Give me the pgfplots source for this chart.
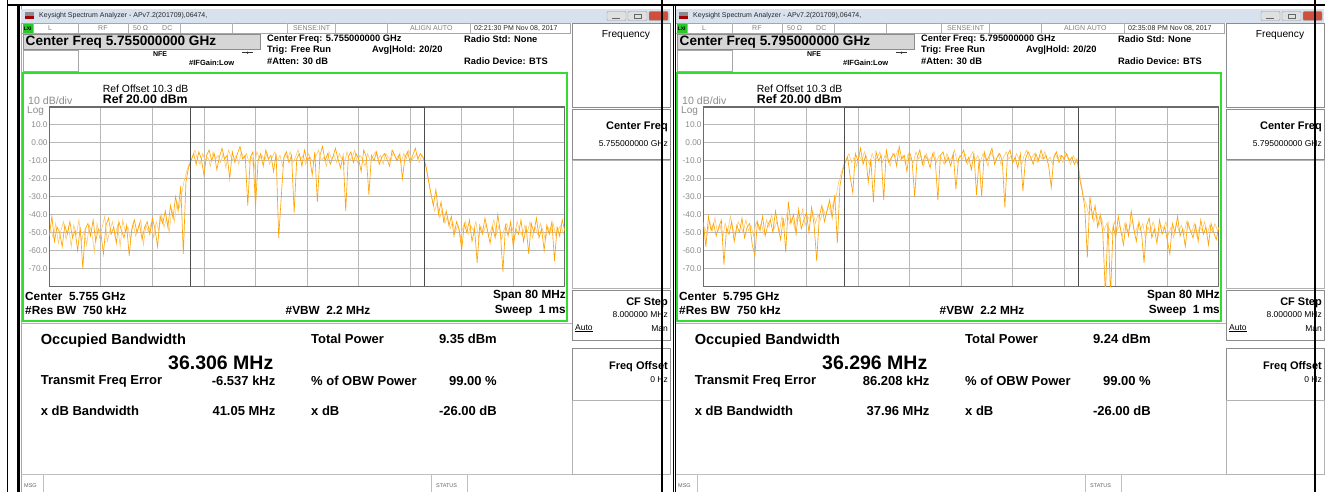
\documentclass[border=0pt]{standalone}
\usepackage{pgfplots}
\pgfplotsset{compat=1.18}
\usepackage{fontspec}
\setmainfont{Liberation Sans}

\definecolor{trace}{RGB}{255,163,0}
\definecolor{tracelight}{RGB}{255,200,110}
\definecolor{lxi}{RGB}{40,200,40}
\definecolor{boxgreen}{RGB}{50,220,50}
\definecolor{titlebar}{RGB}{216,226,238}
\definecolor{keygray}{RGB}{214,214,214}
\newcommand{\fs}[1]{\fontsize{#1}{#1}\selectfont}

\pgfplotsset{sa/.style={
    anchor=south west, width=515.5pt, height=179.2pt, scale only axis,
    xmin=-40, xmax=40, ymin=-80, ymax=20,
    xtick={-32,-24,...,32}, xticklabels={},
    ytick={-70,-60,...,10},
    yticklabels={-70.0,-60.0,-50.0,-40.0,-30.0,-20.0,-10.0,0.00,10.0},
    yticklabel style={font=\fs{8.3}, text=black!45, inner sep=1.5pt},
    tick style={draw=none}, major tick length=0pt,
    grid=major, major grid style={draw=black!28, line width=0.9pt},
    axis line style={draw=black!58, line width=1.3pt},
}}

% one analyzer window: offset, CF, short CF, time, OBW, power, freq err, xdB BW
\newcommand{\panel}[8]{%
\begin{scope}[xshift=#1pt]
\fill[white] (21,6) rectangle (670,492);
\draw[black!35, line width=1pt] (21.5,6) -- (21.5,492);
% title bar
\fill[titlebar] (21,9) rectangle (670,23);
\fill[black!45] (25,12.5) rectangle (34,16);
\fill[red!65!black] (25,16) rectangle (34,19.5);
\node[anchor=west, font=\fs{7}, text=black!85, inner sep=0] at (39,16) {Keysight Spectrum Analyzer - APv7.2(201709),06474,};
\filldraw[fill=black!12, draw=black!40, rounded corners=1pt] (607,11.5) rectangle (626,20.5);
\filldraw[fill=black!12, draw=black!40, rounded corners=1pt] (628,11.5) rectangle (647,20.5);
\filldraw[fill={rgb,255:red,205;green,80;blue,60}, draw=black!40, rounded corners=1pt] (649,11.5) rectangle (668,20.5);
\draw[black!60] (612,18) -- (620,18);
\draw[black!60] (634,14) rectangle (641,18.5);
% status row
\draw[black!35] (21,23.5) rectangle (570,33.5);
\fill[lxi] (22.5,24) rectangle (33,33);
\node[font=\fs{5}\bfseries, inner sep=0] at (27.7,28.5) {LXI};
\foreach \sx in {33,78,128,180,232,287,335,387,470}{\draw[black!30] (\sx,23.5) -- (\sx,33.5);}
\begin{scope}[every node/.style={font=\fs{7}, text=black!50, inner sep=0, anchor=west}]
\node at (48,28.5) {L};
\node at (98,28.5) {RF};
\node at (133,28.5) {50 Ω};
\node at (162,28.5) {DC};
\node at (293,28.5) {SENSE:INT};
\node at (410,28.5) {ALIGN AUTO};
\node[text=black!85] at (474,28.5) {#4};
\end{scope}
% active function
\filldraw[fill=keygray, draw=black!45] (23.3,34.3) rectangle (260,49.3);
\node[anchor=west, font=\fs{13.6}\bfseries, inner sep=0] at (25.5,42.3) {Center Freq #2 GHz};
\draw[black!35] (23.3,50) rectangle (78.3,71.7);
\node[font=\fs{7}\bfseries, inner sep=0] at (160,54.3) {NFE};
\draw[black!80, line width=0.6pt] (242,52.7) -- (253,52.7);
\fill[black!80] (247.5,52.7) circle (1.2);
\node[anchor=west, font=\fs{7.5}\bfseries, inner sep=0] at (189,63.3) {\#IFGain:Low};
\begin{scope}[every node/.style={font=\fs{9.3}\bfseries, inner sep=0, anchor=west}]
\node at (267,39.3) {Center Freq: #2 GHz};
\node at (267,50) {Trig: Free Run};
\node at (267,61) {\#Atten: 30 dB};
\node at (372,50) {Avg|Hold: 20/20};
\node at (464,39.3) {Radio Std: None};
\node at (464,61.5) {Radio Device: BTS};
\end{scope}
% trace window
\draw[boxgreen, line width=2pt] (23.3,72.7) rectangle (566.5,320.5);
\node[anchor=west, font=\fs{10.4}, inner sep=0] at (102.7,88.3) {Ref Offset 10.3 dB};
\node[anchor=west, font=\fs{12.3}\bfseries, inner sep=0] at (102.7,99.5) {Ref 20.00 dBm};
\node[anchor=west, font=\fs{10.6}, text=black!45, inner sep=0] at (28,100.5) {10 dB/div};
\node[anchor=west, font=\fs{10}, text=black!45, inner sep=0] at (27,111) {Log};
\begin{scope}[every node/.style={font=\fs{11.8}\bfseries, inner sep=0}]
\node[anchor=west] at (25,296) {Center\ \ #3 GHz};
\node[anchor=west] at (25,310.5) {\#Res BW\ \ 750 kHz};
\node[anchor=west] at (285.5,310.5) {\#VBW\ \ 2.2 MHz};
\node[anchor=east] at (566,296) {Span 80 MHz};
\node[anchor=east] at (566,310.5) {Sweep\ \ 1 ms};
\end{scope}
% results
\draw[black!30] (21,323) -- (572,323);
\node[anchor=west, font=\fs{14.6}\bfseries, inner sep=0] at (40.6,341) {Occupied Bandwidth};
\node[anchor=east, font=\fs{19.5}\bfseries, inner sep=0] at (273.5,362.7) {#5 MHz};
\begin{scope}[every node/.style={font=\fs{13}\bfseries, inner sep=0}]
\node[anchor=west] at (311,339) {Total Power};
\node[anchor=east] at (497,339) {#6 dBm};
\node[anchor=west] at (40.6,381) {Transmit Freq Error};
\node[anchor=east] at (275.6,381) {#7 kHz};
\node[anchor=west] at (311,381) {\% of OBW Power};
\node[anchor=east] at (497,381) {99.00 \%};
\node[anchor=west] at (40.6,411) {x dB Bandwidth};
\node[anchor=east] at (275.6,411) {#8 MHz};
\node[anchor=west] at (311,411) {x dB};
\node[anchor=east] at (497,411) {-26.00 dB};
\end{scope}
% message bar
\draw[black!25, line width=1.2pt] (21,474.5) -- (670,474.5);
\foreach \sx in {42.7,431.6,466.7}{\draw[black!25] (\sx,475) -- (\sx,492);}
\node[anchor=west, font=\fs{5.5}, text=black!60, inner sep=0] at (24,486) {MSG};
\node[anchor=west, font=\fs{5.5}, text=black!60, inner sep=0] at (436,486) {STATUS};
% softkeys
\draw[black!45, line width=1pt] (572.6,24) rectangle (670,108);
\node[font=\fs{10.2}, inner sep=0] at (626,35.5) {Frequency};
\draw[black!45, line width=1pt] (572.6,109.3) rectangle (670,159.3);
\node[anchor=east, font=\fs{11}\bfseries, inner sep=0] at (668,126.7) {Center Freq};
\node[anchor=east, font=\fs{8.5}, inner sep=0] at (668,143.3) {#2 GHz};
\draw[black!30, line width=1pt] (572.6,160) rectangle (670,288);
\draw[black!45, line width=1pt] (572.6,290) rectangle (670,340);
\node[anchor=east, font=\fs{11}\bfseries, inner sep=0] at (668,302.7) {CF Step};
\node[anchor=east, font=\fs{8.5}, inner sep=0] at (668,315) {8.000000 MHz};
\node[anchor=west, font=\fs{8.5}, inner sep=0] at (575,328.3) {\underline{Auto}};
\node[anchor=east, font=\fs{8.5}, inner sep=0] at (668,328.3) {Man};
\draw[black!45, line width=1pt] (572.6,348) rectangle (670,400);
\node[anchor=east, font=\fs{11}\bfseries, inner sep=0] at (668,367) {Freq Offset};
\node[anchor=east, font=\fs{8.5}, inner sep=0] at (668,380) {0 Hz};
\draw[black!30, line width=1pt] (572.6,400) rectangle (670,474);
\end{scope}}

\begin{document}
\begin{tikzpicture}[x=1pt, y=-1pt]
\path[use as bounding box] (0,0) rectangle (1325,492);
\fill[white] (0,0) rectangle (1325,492);

\panel{0}{5.755000000}{5.755}{02:21:30 PM Nov 08, 2017}{36.306}{9.35}{-6.537}{41.05}
\panel{654}{5.795000000}{5.795}{02:35:08 PM Nov 08, 2017}{36.296}{9.24}{86.208}{37.96}

\begin{scope}[x=1cm, y=1cm]
\begin{axis}[sa, at={(49.3pt,-286.2pt)}]
% in-between sweep points (lighter)
\addplot[tracelight, line width=0.6pt] coordinates {
(-39.8,-48) (-39.4,-53) (-39.0,-45) (-38.6,-56) (-38.2,-49) (-37.8,-44) (-37.4,-54) (-37.0,-47)
(-36.6,-58) (-36.2,-46) (-35.8,-51) (-35.4,-43) (-35.0,-55) (-34.6,-49) (-34.2,-57) (-33.8,-46)
(-33.4,-50) (-33.0,-61) (-32.6,-45) (-32.2,-53) (-31.8,-47) (-31.4,-41) (-31.0,-55) (-30.6,-49)
(-30.2,-44) (-29.8,-52) (-29.4,-46) (-29.0,-58) (-28.6,-43) (-28.2,-50) (-27.8,-47) (-27.4,-54)
(-27.0,-45) (-26.6,-52) (-26.2,-48) (-25.8,-43) (-25.4,-57) (-25.0,-46) (-24.6,-50) (-24.2,-45)
(-23.8,-53) (-23.4,-44) (-23.0,-49) (-22.6,-40) (-22.2,-47) (-21.8,-42) (-21.4,-50) (-21.0,-37)
(-20.6,-44) (-20.2,-33) (-19.8,-36) (-19.4,-27) (-19.0,-20) (-18.6,-15) (-18.2,-11) (-17.8,-8)
(-17.4,-4) (-17.0,-9) (-16.6,-12) (-16.2,-6) (-15.8,-10) (-15.4,-8) (-15.0,-13) (-14.6,-5)
(-14.2,-9) (-13.8,-7) (-13.4,-11) (-13.0,-6) (-12.6,-14) (-12.2,-4) (-11.8,-8) (-11.4,-10)
(-11.0,-7) (-10.6,-12) (-10.2,-5) (-9.8,-9) (-9.4,-6) (-9.0,-11) (-8.6,-8) (-8.2,-14)
(-7.8,-5) (-7.4,-9) (-7.0,-7) (-6.6,-10) (-6.2,-6) (-5.8,-12) (-5.4,-8) (-5.0,-5)
(-4.6,-10) (-4.2,-7) (-3.8,-13) (-3.4,-6) (-3.0,-9) (-2.6,-5) (-2.2,-11) (-1.8,-8)
(-1.4,-4) (-1.0,-9) (-0.6,-7) (-0.2,-12) (0.2,-6) (0.6,-9) (1.0,-11) (1.4,-7)
(1.8,-4) (2.2,-10) (2.6,-8) (3.0,-13) (3.4,-5) (3.8,-9) (4.2,-7) (4.6,-11)
(5.0,-6) (5.4,-9) (5.8,-12) (6.2,-5) (6.6,-10) (7.0,-8) (7.4,-4) (7.8,-11)
(8.2,-7) (8.6,-9) (9.0,-13) (9.4,-6) (9.8,-10) (10.2,-8) (10.6,-5) (11.0,-9)
(11.4,-7) (11.8,-12) (12.2,-6) (12.6,-8) (13.0,-10) (13.4,-5) (13.8,-9) (14.2,-7)
(14.6,-11) (15.0,-6) (15.4,-9) (15.8,-4) (16.2,-10) (16.6,-8) (17.0,-6) (17.4,-11)
(17.8,-7) (18.2,-10) (18.6,-16) (19.0,-24) (19.4,-31) (19.8,-38) (20.2,-33) (20.6,-42)
(21.0,-37) (21.4,-45) (21.8,-41) (22.2,-48) (22.6,-44) (23.0,-50) (23.4,-46) (23.8,-53)
(24.2,-47) (24.6,-44) (25.0,-51) (25.4,-46) (25.8,-49) (26.2,-44) (26.6,-53) (27.0,-47)
(27.4,-50) (27.8,-45) (28.2,-52) (28.6,-48) (29.0,-43) (29.4,-51) (29.8,-46) (30.2,-54)
(30.6,-48) (31.0,-45) (31.4,-50) (31.8,-47) (32.2,-53) (32.6,-44) (33.0,-49) (33.4,-52)
(33.8,-46) (34.2,-50) (34.6,-44) (35.0,-53) (35.4,-47) (35.8,-51) (36.2,-45) (36.6,-49)
(37.0,-54) (37.4,-47) (37.8,-50) (38.2,-45) (38.6,-52) (39.0,-48) (39.4,-46) (39.8,-51)
};
\addplot[trace, line width=0.65pt] coordinates {
(-40.0,-52) (-39.6,-41) (-39.2,-55) (-38.8,-47) (-38.4,-50) (-38.0,-58) (-37.6,-46) (-37.2,-51)
(-36.8,-44) (-36.4,-53) (-36.0,-49) (-35.6,-60) (-35.2,-47) (-34.8,-70) (-34.4,-48) (-34.0,-45)
(-33.6,-52) (-33.2,-43) (-32.8,-55) (-32.4,-48) (-32.0,-50) (-31.6,-62) (-31.2,-46) (-30.8,-42)
(-30.4,-51) (-30.0,-47) (-29.6,-56) (-29.2,-44) (-28.8,-49) (-28.4,-53) (-28.0,-46) (-27.6,-63)
(-27.2,-48) (-26.8,-43) (-26.4,-50) (-26.0,-45) (-25.6,-54) (-25.2,-47) (-24.8,-44) (-24.4,-51)
(-24.0,-42) (-23.6,-48) (-23.2,-58) (-22.8,-41) (-22.4,-45) (-22.0,-38) (-21.6,-47) (-21.2,-35)
(-20.8,-42) (-20.4,-30) (-20.0,-38) (-19.6,-24) (-19.2,-62) (-18.8,-22) (-18.4,-14) (-18.0,-10)
(-17.6,-6) (-17.2,-12) (-16.8,-5) (-16.4,-9) (-16.0,-18) (-15.6,-7) (-15.2,-4) (-14.8,-10)
(-14.4,-6) (-14.0,-15) (-13.6,-8) (-13.2,-3) (-12.8,-9) (-12.4,-7) (-12.0,-20) (-11.6,-5)
(-11.2,-11) (-10.8,-6) (-10.4,-2) (-10.0,-9) (-9.6,-7) (-9.2,-35) (-8.8,-8) (-8.4,-5)
(-8.0,-36) (-7.6,-10) (-7.2,-6) (-6.8,-13) (-6.4,-4) (-6.0,-9) (-5.6,-7) (-5.2,-16)
(-4.8,-6) (-4.4,-53) (-4.0,-30) (-3.6,-8) (-3.2,-5) (-2.8,-11) (-2.4,-7) (-2.0,-39)
(-1.6,-9) (-1.2,-6) (-0.8,-13) (-0.4,-4) (0.0,-10) (0.4,-8) (0.8,-18) (1.2,-5)
(1.6,-33) (2.0,-7) (2.4,-2) (2.8,-10) (3.2,-6) (3.6,-12) (4.0,-8) (4.4,-3)
(4.8,-9) (5.2,-14) (5.6,-7) (6.0,-38) (6.4,-8) (6.8,-5) (7.2,-11) (7.6,-6)
(8.0,-9) (8.4,-16) (8.8,-4) (9.2,-8) (9.6,-29) (10.0,-7) (10.4,-10) (10.8,-5)
(11.2,-12) (11.6,-8) (12.0,-6) (12.4,-9) (12.8,-13) (13.2,-4) (13.6,-7) (14.0,-10)
(14.4,-6) (14.8,-20) (15.2,-8) (15.6,-5) (16.0,-11) (16.4,-7) (16.8,-3) (17.2,-9)
(17.6,-6) (18.0,-8) (18.4,-12) (18.8,-20) (19.2,-28) (19.6,-35) (20.0,-26) (20.4,-40)
(20.8,-33) (21.2,-44) (21.6,-38) (22.0,-46) (22.4,-41) (22.8,-52) (23.2,-44) (23.6,-48)
(24.0,-60) (24.4,-45) (24.8,-50) (25.2,-43) (25.6,-55) (26.0,-48) (26.4,-67) (26.8,-46)
(27.2,-51) (27.6,-42) (28.0,-49) (28.4,-56) (28.8,-47) (29.2,-53) (29.6,-40) (30.0,-50)
(30.4,-72) (30.8,-46) (31.2,-52) (31.6,-44) (32.0,-58) (32.4,-48) (32.8,-51) (33.2,-43)
(33.6,-55) (34.0,-47) (34.4,-62) (34.8,-45) (35.2,-50) (35.6,-42) (36.0,-53) (36.4,-48)
(36.8,-60) (37.2,-46) (37.6,-51) (38.0,-44) (38.4,-66) (38.8,-47) (39.2,-52) (39.6,-43)
(40.0,-49)
};
\draw[black!70, line width=1pt] (axis cs:-18.15,-80) -- (axis cs:-18.15,20) -- (axis cs:18.15,20) -- (axis cs:18.15,-80);
\end{axis}

\begin{axis}[sa, at={(703.3pt,-286.2pt)}]
\addplot[tracelight, line width=0.6pt] coordinates {
(-39.8,-47) (-39.4,-51) (-39.0,-44) (-38.6,-49) (-38.2,-42) (-37.8,-50) (-37.4,-46) (-37.0,-53)
(-36.6,-45) (-36.2,-49) (-35.8,-41) (-35.4,-48) (-35.0,-52) (-34.6,-44) (-34.2,-47) (-33.8,-50)
(-33.4,-43) (-33.0,-49) (-32.6,-46) (-32.2,-52) (-31.8,-44) (-31.4,-48) (-31.0,-45) (-30.6,-51)
(-30.2,-43) (-29.8,-47) (-29.4,-40) (-29.0,-48) (-28.6,-44) (-28.2,-50) (-27.8,-41) (-27.4,-46)
(-27.0,-39) (-26.6,-45) (-26.2,-42) (-25.8,-48) (-25.4,-40) (-25.0,-44) (-24.6,-37) (-24.2,-46)
(-23.8,-41) (-23.4,-44) (-23.0,-38) (-22.6,-45) (-22.2,-40) (-21.8,-43) (-21.4,-37) (-21.0,-41)
(-20.6,-35) (-20.2,-39) (-19.8,-33) (-19.4,-30) (-19.0,-22) (-18.6,-17) (-18.2,-12) (-17.8,-9)
(-17.4,-6) (-17.0,-11) (-16.6,-8) (-16.2,-13) (-15.8,-7) (-15.4,-10) (-15.0,-5) (-14.6,-9)
(-14.2,-12) (-13.8,-6) (-13.4,-10) (-13.0,-8) (-12.6,-5) (-12.2,-11) (-11.8,-7) (-11.4,-9)
(-11.0,-13) (-10.6,-6) (-10.2,-8) (-9.8,-4) (-9.4,-10) (-9.0,-7) (-8.6,-12) (-8.2,-6)
(-7.8,-9) (-7.4,-11) (-7.0,-5) (-6.6,-9) (-6.2,-7) (-5.8,-13) (-5.4,-6) (-5.0,-10)
(-4.6,-8) (-4.2,-5) (-3.8,-11) (-3.4,-7) (-3.0,-9) (-2.6,-12) (-2.2,-6) (-1.8,-10)
(-1.4,-8) (-1.0,-4) (-0.6,-11) (-0.2,-7) (0.2,-9) (0.6,-6) (1.0,-12) (1.4,-8)
(1.8,-5) (2.2,-10) (2.6,-7) (3.0,-11) (3.4,-6) (3.8,-9) (4.2,-13) (4.6,-5)
(5.0,-8) (5.4,-10) (5.8,-6) (6.2,-12) (6.6,-8) (7.0,-5) (7.4,-9) (7.8,-7)
(8.2,-11) (8.6,-6) (9.0,-9) (9.4,-12) (9.8,-7) (10.2,-4) (10.6,-10) (11.0,-8)
(11.4,-6) (11.8,-11) (12.2,-7) (12.6,-9) (13.0,-5) (13.4,-10) (13.8,-8) (14.2,-12)
(14.6,-6) (15.0,-9) (15.4,-7) (15.8,-11) (16.2,-5) (16.6,-9) (17.0,-12) (17.4,-7)
(17.8,-10) (18.2,-12) (18.6,-22) (19.0,-30) (19.4,-34) (19.8,-40) (20.2,-36) (20.6,-44)
(21.0,-39) (21.4,-46) (21.8,-42) (22.2,-49) (22.6,-45) (23.0,-48) (23.4,-51) (23.8,-44)
(24.2,-49) (24.6,-46) (25.0,-52) (25.4,-45) (25.8,-50) (26.2,-47) (26.6,-43) (27.0,-51)
(27.4,-46) (27.8,-49) (28.2,-45) (28.6,-53) (29.0,-47) (29.4,-50) (29.8,-44) (30.2,-49)
(30.6,-52) (31.0,-46) (31.4,-48) (31.8,-44) (32.2,-51) (32.6,-47) (33.0,-53) (33.4,-45)
(33.8,-49) (34.2,-46) (34.6,-51) (35.0,-44) (35.4,-48) (35.8,-50) (36.2,-45) (36.6,-52)
(37.0,-47) (37.4,-49) (37.8,-44) (38.2,-51) (38.6,-46) (39.0,-50) (39.4,-45) (39.8,-49)
};
\addplot[trace, line width=0.65pt] coordinates {
(-40.0,-44) (-39.6,-58) (-39.2,-41) (-38.8,-49) (-38.4,-45) (-38.0,-52) (-37.6,-47) (-37.2,-43)
(-36.8,-68) (-36.4,-48) (-36.0,-51) (-35.6,-44) (-35.2,-55) (-34.8,-46) (-34.4,-50) (-34.0,-42)
(-33.6,-53) (-33.2,-47) (-32.8,-45) (-32.4,-57) (-32.0,-63) (-31.6,-44) (-31.2,-49) (-30.8,-41)
(-30.4,-52) (-30.0,-46) (-29.6,-43) (-29.2,-50) (-28.8,-38) (-28.4,-47) (-28.0,-54) (-27.6,-42)
(-27.2,-61) (-26.8,-33) (-26.4,-45) (-26.0,-40) (-25.6,-51) (-25.2,-37) (-24.8,-48) (-24.4,-43)
(-24.0,-39) (-23.6,-50) (-23.2,-36) (-22.8,-46) (-22.4,-66) (-22.0,-41) (-21.6,-35) (-21.2,-44)
(-20.8,-38) (-20.4,-32) (-20.0,-42) (-19.6,-29) (-19.2,-56) (-18.8,-24) (-18.4,-16) (-18.0,-11)
(-17.6,-8) (-17.2,-19) (-16.8,-28) (-16.4,-6) (-16.0,-10) (-15.6,-3) (-15.2,-12) (-14.8,-7)
(-14.4,-22) (-14.0,-9) (-13.6,-33) (-13.2,-5) (-12.8,-10) (-12.4,-7) (-12.0,-32) (-11.6,-4)
(-11.2,-11) (-10.8,-8) (-10.4,-6) (-10.0,-13) (-9.6,-2) (-9.2,-9) (-8.8,-7) (-8.4,-16)
(-8.0,-5) (-7.6,-10) (-7.2,-30) (-6.8,-8) (-6.4,-4) (-6.0,-12) (-5.6,-7) (-5.2,-9)
(-4.8,-14) (-4.4,-6) (-4.0,-10) (-3.6,-32) (-3.2,-7) (-2.8,-5) (-2.4,-11) (-2.0,-8)
(-1.6,-13) (-1.2,-6) (-0.8,-26) (-0.4,-9) (0.0,-7) (0.4,-4) (0.8,-11) (1.2,-8)
(1.6,-15) (2.0,-6) (2.4,-29) (2.8,-9) (3.2,-30) (3.6,-5) (4.0,-10) (4.4,-7)
(4.8,-3) (5.2,-12) (5.6,-8) (6.0,-6) (6.4,-10) (6.8,-36) (7.2,-7) (7.6,-4)
(8.0,-11) (8.4,-8) (8.8,-14) (9.2,-6) (9.6,-27) (10.0,-9) (10.4,-5) (10.8,-8)
(11.2,-12) (11.6,-6) (12.0,-10) (12.4,-4) (12.8,-9) (13.2,-7) (13.6,-13) (14.0,-25)
(14.4,-8) (14.8,-5) (15.2,-11) (15.6,-7) (16.0,-9) (16.4,-6) (16.8,-10) (17.2,-8)
(17.6,-12) (18.0,-9) (18.4,-20) (18.8,-27) (19.2,-36) (19.6,-64) (20.0,-30) (20.4,-42)
(20.8,-35) (21.2,-47) (21.6,-40) (22.0,-50) (22.4,-85) (22.8,-44) (23.2,-85) (23.6,-46)
(24.0,-53) (24.4,-41) (24.8,-49) (25.2,-57) (25.6,-45) (26.0,-52) (26.4,-38) (26.8,-48)
(27.2,-55) (27.6,-44) (28.0,-50) (28.4,-67) (28.8,-46) (29.2,-42) (29.6,-53) (30.0,-48)
(30.4,-56) (30.8,-43) (31.2,-51) (31.6,-47) (32.0,-54) (32.4,-62) (32.8,-45) (33.2,-50)
(33.6,-41) (34.0,-52) (34.4,-48) (34.8,-58) (35.2,-44) (35.6,-49) (36.0,-53) (36.4,-46)
(36.8,-55) (37.2,-43) (37.6,-51) (38.0,-47) (38.4,-57) (38.8,-45) (39.2,-50) (39.6,-54)
(40.0,-47)
};
\draw[black!70, line width=1pt] (axis cs:-18.06,-80) -- (axis cs:-18.06,20) -- (axis cs:18.3,20) -- (axis cs:18.3,-80);
\end{axis}
\end{scope}

% document table rules
\draw[black, line width=1pt] (7,0) -- (7,492);
\draw[black, line width=2pt] (7,5) -- (1325,5);
\draw[black, line width=3pt] (18.8,5) -- (18.8,492);
\draw[black, line width=1.8pt] (661.8,0) -- (661.8,492);
\draw[black, line width=1pt] (673.3,5) -- (673.3,492);
\draw[black, line width=1pt] (675.6,5) -- (675.6,492);
\draw[black, line width=1.8pt] (1315,0) -- (1315,492);
\end{tikzpicture}
\end{document}
